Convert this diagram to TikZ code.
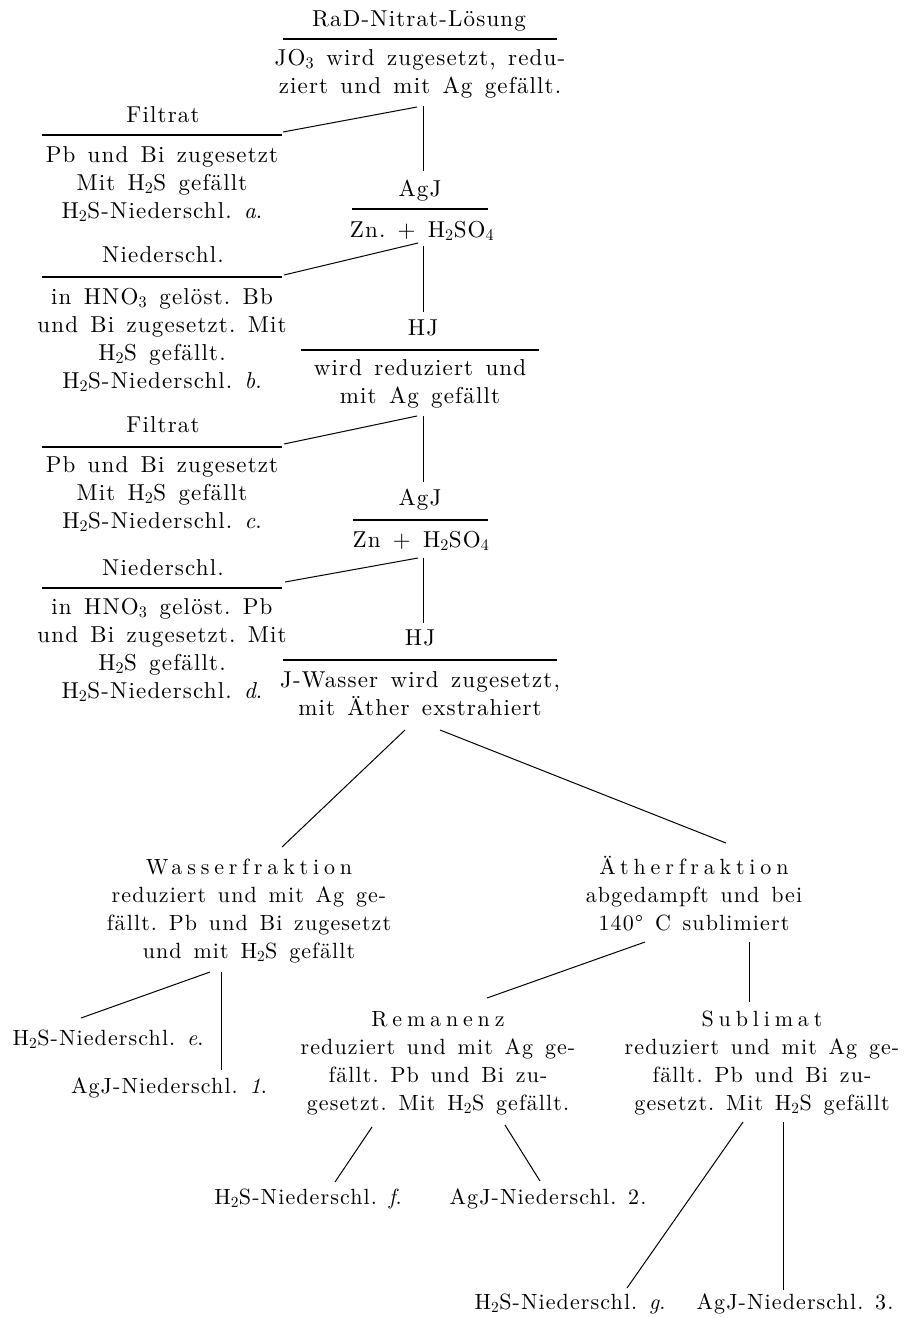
\documentclass[tikz,border=0pt]{standalone}
\usepackage{fontspec}
\setmainfont{lmroman10-regular.otf}[ItalicFont=lmroman10-italic.otf, LetterSpace=5, WordSpace=1.4]
\usepackage{tikz}

\newcommand\gesperrt[1]{{\addfontfeature{LetterSpace=22}#1}}
\newcommand\tief[1]{\textsubscript{#1}}
\frenchspacing

\begin{document}
\begin{tikzpicture}[x=1pt, y=-1pt,
        chem/.style={inner sep=0pt, anchor=base, align=center, font=\fontsize{23}{28}\selectfont},
        chemklein/.style={chem, font=\fontsize{22}{28}\selectfont},
        fracbar/.style={line width=1.2pt},
        branch/.style={line width=1pt}]
        \useasboundingbox (0,0) rectangle (903,1318);

        % base = Grundlinie der letzten Zeile
        \node [chem] (rad)   at (419,26)  {RaD-Nitrat-Lösung};                          %
        \node [chem] (jo3)   at (420,93)  {JO\tief{3} wird zugesetzt, redu-\\ziert und mit Ag gefällt.};
        \node [chem] (filt1) at (163,122) {Filtrat};                                    %
        \node [chem] (pb1)   at (162,218) {Pb und Bi zugesetzt\\Mit H\tief{2}S gefällt\\H\tief{2}S-Niederschl. \textit{a}.};
        \node [chem] (agj1)  at (420,196) {AgJ};                                        %
        \node [chem] (zn1)   at (422,237) {Zn. + H\tief{2}SO\tief{4}};                  %
        \node [chem] (nied1) at (163,262) {Niederschl.};                                %
        \node [chem] (hno1)  at (162,388) {in HNO\tief{3} gelöst. Bb\\und Bi zugesetzt. Mit\\H\tief{2}S gefällt.\\H\tief{2}S-Niederschl. \textit{b}.};
        \node [chem] (hj1)   at (423,335) {HJ};                                         %
        \node [chem] (red1)  at (420,403) {wird reduziert und\\mit Ag gefällt};         %
        \node [chem] (filt2) at (163,432) {Filtrat};                                    %
        \node [chem] (pb2)   at (162,528) {Pb und Bi zugesetzt\\Mit H\tief{2}S gefällt\\H\tief{2}S-Niederschl. \textit{c}.};
        \node [chem] (agj2)  at (420,505) {AgJ};                                        %
        \node [chem] (zn2)   at (421,547) {Zn + H\tief{2}SO\tief{4}};                   %
        \node [chem] (nied2) at (163,575) {Niederschl.};                                %
        \node [chem] (hno2)  at (162,698) {in HNO\tief{3} gelöst. Pb\\und Bi zugesetzt. Mit\\H\tief{2}S gefällt.\\H\tief{2}S-Niederschl. \textit{d}.};
        \node [chem] (hj2)   at (420,645) {HJ};                                         %
        \node [chem] (jw)    at (420,715) {J-Wasser wird zugesetzt,\\mit Äther exstrahiert};

        \node [chemklein] (wasser) at (249,958) {\gesperrt{Wasserfraktion}\\reduziert und mit Ag ge-\\fällt. Pb und Bi zugesetzt\\und mit H\tief{2}S gefällt};
        \node [chemklein] (aether) at (694,930) {\gesperrt{Ätherfraktion}\\abgedampft und bei\\140°~C sublimiert};
        \node [chemklein] (h2se)   at (108,1045) {H\tief{2}S-Niederschl. \textit{e}.};  %
        \node [chemklein] (agjn1)  at (169,1093) {AgJ-Niederschl. \textit{1}.};         %
        \node [chemklein] (reman)  at (438,1110) {\gesperrt{Remanenz}\\reduziert und mit Ag ge-\\fällt. Pb und Bi zu-\\gesetzt. Mit H\tief{2}S gefällt.};
        \node [chemklein] (subl)   at (762,1110) {\gesperrt{Sublimat}\\reduziert und mit Ag ge-\\fällt. Pb und Bi zu-\\gesetzt. Mit H\tief{2}S gefällt};
        \node [chemklein] (h2sf)   at (308,1204) {H\tief{2}S-Niederschl. \textit{f}.};  %
        \node [chemklein] (agjn2)  at (548,1204) {AgJ-Niederschl. 2.};                  %
        \node [chemklein] (h2sg)   at (570,1309) {H\tief{2}S-Niederschl. \textit{g}.};  %
        \node [chemklein] (agjn3)  at (795,1309) {AgJ-Niederschl. 3.};                  %

        % Bruchstriche
        \draw [fracbar] ([shift={(-137pt,54pt)}]jo3.base)   -- ([shift={(137pt,54pt)}]jo3.base);   %RaD
        \draw [fracbar] ([shift={(-120pt,83pt)}]pb1.base)   -- ([shift={(120pt,83pt)}]pb1.base);   %Filtrat a
        \draw [fracbar] ([shift={(-70pt,28pt)}]zn1.base)    -- ([shift={(66pt,28pt)}]zn1.base);    %AgJ
        \draw [fracbar] ([shift={(-120pt,111pt)}]hno1.base) -- ([shift={(120pt,111pt)}]hno1.base); %Niederschl. b
        \draw [fracbar] ([shift={(-119pt,53pt)}]red1.base)  -- ([shift={(119pt,53pt)}]red1.base);  %HJ
        \draw [fracbar] ([shift={(-120pt,81pt)}]pb2.base)   -- ([shift={(120pt,81pt)}]pb2.base);   %Filtrat c
        \draw [fracbar] ([shift={(-68pt,27pt)}]zn2.base)    -- ([shift={(67pt,27pt)}]zn2.base);    %AgJ
        \draw [fracbar] ([shift={(-120pt,110pt)}]hno2.base) -- ([shift={(120pt,110pt)}]hno2.base); %Niederschl. d
        \draw [fracbar] ([shift={(-137pt,55pt)}]jw.base)    -- ([shift={(137pt,55pt)}]jw.base);    %HJ

        % Aeste
        \draw [branch] ([shift={(3pt,-13pt)}]jo3.base)   -- ([shift={(3pt,25pt)}]agj1.base);
        \draw [branch] ([shift={(-3pt,-14pt)}]jo3.base)  -- ([shift={(121pt,86pt)}]pb1.base);
        \draw [branch] ([shift={(1pt,-9pt)}]zn1.base)    -- ([shift={(0pt,23pt)}]hj1.base);
        \draw [branch] ([shift={(-4pt,-6pt)}]zn1.base)   -- ([shift={(122pt,113pt)}]hno1.base);
        \draw [branch] ([shift={(3pt,-13pt)}]red1.base)  -- ([shift={(3pt,23pt)}]agj2.base);
        \draw [branch] ([shift={(-3pt,-13pt)}]red1.base) -- ([shift={(122pt,84pt)}]pb2.base);
        \draw [branch] ([shift={(2pt,-11pt)}]zn2.base)   -- ([shift={(3pt,22pt)}]hj2.base);
        \draw [branch] ([shift={(-3pt,-11pt)}]zn2.base)  -- ([shift={(123pt,116pt)}]hno2.base);

        \draw [branch] ([shift={(-15pt,-15pt)}]jw.base)     -- ([shift={(33pt,111pt)}]wasser.base);
        \draw [branch] ([shift={(20pt,-15pt)}]jw.base)      -- ([shift={(32pt,87pt)}]aether.base);
        \draw [branch] ([shift={(-39pt,-14pt)}]wasser.base) -- ([shift={(-27pt,27pt)}]h2se.base);
        \draw [branch] ([shift={(-28pt,-14pt)}]wasser.base) -- ([shift={(52pt,23pt)}]agjn1.base);
        \draw [branch] ([shift={(-49pt,-12pt)}]aether.base) -- ([shift={(49pt,112pt)}]reman.base);
        \draw [branch] ([shift={(55pt,-12pt)}]aether.base)  -- ([shift={(-13pt,108pt)}]subl.base);
        \draw [branch] ([shift={(-66pt,-17pt)}]reman.base)  -- ([shift={(27pt,22pt)}]h2sf.base);
        \draw [branch] ([shift={(67pt,-15pt)}]reman.base)   -- ([shift={(-8pt,23pt)}]agjn2.base);
        \draw [branch] ([shift={(-19pt,-12pt)}]subl.base)   -- ([shift={(57pt,21pt)}]h2sg.base);
        \draw [branch] ([shift={(21pt,-12pt)}]subl.base)    -- ([shift={(-12pt,19pt)}]agjn3.base);
\end{tikzpicture}
\end{document}
